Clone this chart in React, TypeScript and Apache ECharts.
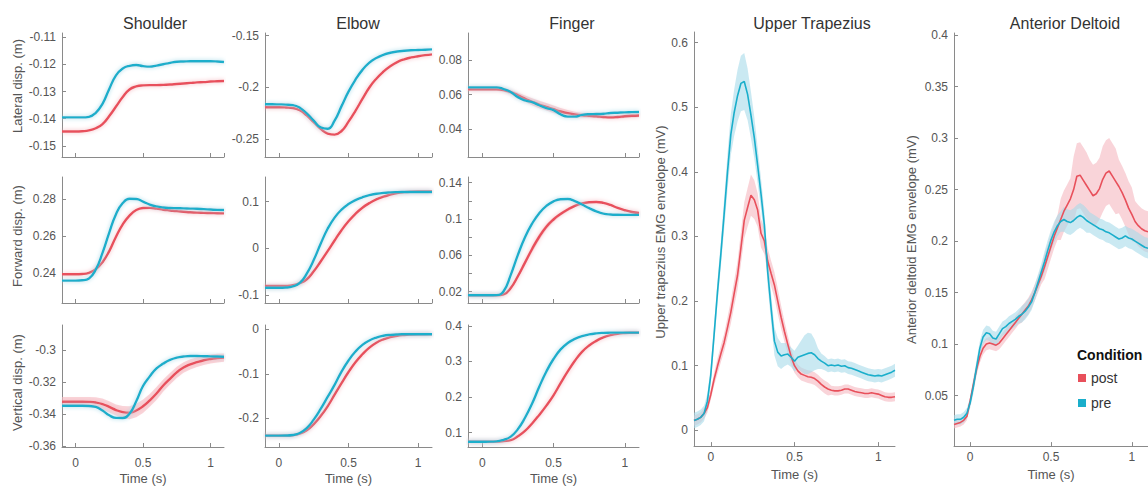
import React, { useEffect, useRef } from "react";
import * as echarts from "echarts";

// ---------- time bases ----------
const T_KIN = [-0.1, -0.05, 0, 0.05, 0.1, 0.15, 0.2, 0.25, 0.3, 0.35, 0.4, 0.45, 0.5, 0.55, 0.6, 0.65, 0.7, 0.75, 0.8, 0.85, 0.9, 0.95, 1.0, 1.05, 1.1];
const T_EMG = [
  -0.1, -0.08, -0.06, -0.04, -0.02, 0, 0.02, 0.04, 0.06, 0.08,
  0.1, 0.12, 0.14, 0.16, 0.18, 0.2, 0.22, 0.24, 0.26, 0.28,
  0.3, 0.32, 0.34, 0.36, 0.38, 0.4, 0.42, 0.44, 0.46, 0.48,
  0.5, 0.52, 0.54, 0.56, 0.58, 0.6, 0.62, 0.64, 0.66, 0.68,
  0.7, 0.72, 0.74, 0.76, 0.78, 0.8, 0.82, 0.84, 0.86, 0.88,
  0.9, 0.92, 0.94, 0.96, 0.98, 1.0, 1.02, 1.04, 1.06, 1.08,
  1.1,
];

// ---------- kinematics (m) ----------
const SH_LAT_PRE = [-0.1395, -0.1395, -0.1395, -0.1395, -0.1393, -0.1378, -0.1345, -0.129, -0.124, -0.1215, -0.1205, -0.1202, -0.1206, -0.1208, -0.1204, -0.1199, -0.1194, -0.119, -0.1189, -0.1188, -0.1188, -0.1188, -0.1188, -0.1189, -0.1191];
const SH_LAT_POST = [-0.1447, -0.1447, -0.1447, -0.1446, -0.1443, -0.1435, -0.142, -0.139, -0.1355, -0.132, -0.1292, -0.1281, -0.1277, -0.1276, -0.1276, -0.1275, -0.1274, -0.1272, -0.127, -0.1268, -0.1266, -0.1265, -0.1263, -0.1262, -0.1261];
const EL_LAT_PRE = [-0.2162, -0.2162, -0.2163, -0.2165, -0.217, -0.2195, -0.225, -0.232, -0.2385, -0.2398, -0.232, -0.218, -0.204, -0.1925, -0.183, -0.176, -0.1715, -0.1685, -0.1665, -0.1653, -0.1646, -0.1641, -0.1638, -0.1635, -0.1632];
const EL_LAT_POST = [-0.2191, -0.2191, -0.2191, -0.2193, -0.2198, -0.222, -0.227, -0.2335, -0.24, -0.2445, -0.2455, -0.242, -0.233, -0.2225, -0.211, -0.2, -0.1915, -0.1848, -0.1795, -0.1755, -0.1728, -0.171, -0.1698, -0.1688, -0.168];
const FI_LAT_PRE = [0.0642, 0.0642, 0.0642, 0.0642, 0.0642, 0.0632, 0.0615, 0.0585, 0.0566, 0.0556, 0.0538, 0.0522, 0.051, 0.0485, 0.0472, 0.0472, 0.0482, 0.0486, 0.0487, 0.0489, 0.0493, 0.0495, 0.0497, 0.0498, 0.0499];
const FI_LAT_POST = [0.063, 0.063, 0.063, 0.063, 0.063, 0.0626, 0.0614, 0.0596, 0.0576, 0.0558, 0.0542, 0.0529, 0.0515, 0.0502, 0.0492, 0.0485, 0.048, 0.0477, 0.0474, 0.047, 0.0468, 0.047, 0.0474, 0.0477, 0.0479];
const FI_LAT_POST_SD = [0.0008, 0.0008, 0.0008, 0.0008, 0.0008, 0.001, 0.0012, 0.0015, 0.0018, 0.002, 0.0022, 0.0022, 0.0022, 0.002, 0.0018, 0.0015, 0.0013, 0.0012, 0.001, 0.001, 0.001, 0.001, 0.001, 0.001, 0.001];

const SH_FWD_PRE = [0.236, 0.236, 0.236, 0.2362, 0.2372, 0.242, 0.251, 0.262, 0.272, 0.278, 0.2803, 0.2802, 0.2788, 0.2772, 0.2762, 0.2756, 0.2753, 0.2752, 0.2751, 0.275, 0.2749, 0.2747, 0.2745, 0.2743, 0.2742];
const SH_FWD_POST = [0.2395, 0.2395, 0.2395, 0.2396, 0.2402, 0.2422, 0.246, 0.252, 0.2598, 0.2665, 0.2712, 0.2742, 0.2753, 0.2754, 0.275, 0.2744, 0.274, 0.2736, 0.2733, 0.273, 0.2728, 0.2727, 0.2726, 0.2725, 0.2724];
const EL_FWD_PRE = [-0.0842, -0.0842, -0.0842, -0.0838, -0.0815, -0.074, -0.054, -0.025, 0.01, 0.042, 0.066, 0.083, 0.095, 0.1035, 0.1095, 0.114, 0.117, 0.119, 0.12, 0.1205, 0.1207, 0.1208, 0.1208, 0.1208, 0.1208];
const EL_FWD_POST = [-0.0805, -0.0805, -0.0805, -0.0803, -0.079, -0.0745, -0.066, -0.049, -0.028, -0.006, 0.017, 0.039, 0.058, 0.074, 0.087, 0.097, 0.105, 0.1108, 0.115, 0.1185, 0.1205, 0.1215, 0.1218, 0.1218, 0.1218];
const FI_FWD_PRE = [0.016, 0.016, 0.016, 0.016, 0.0162, 0.0205, 0.0385, 0.0605, 0.08, 0.095, 0.1065, 0.1145, 0.1195, 0.1218, 0.122, 0.1198, 0.116, 0.112, 0.1085, 0.106, 0.105, 0.1047, 0.1046, 0.1046, 0.1046];
const FI_FWD_POST = [0.016, 0.016, 0.016, 0.016, 0.016, 0.017, 0.024, 0.037, 0.052, 0.067, 0.0805, 0.0915, 0.0995, 0.1055, 0.1105, 0.1145, 0.1172, 0.1185, 0.1188, 0.1178, 0.1155, 0.1122, 0.1097, 0.1078, 0.1066];
const FI_FWD_POST_SD = [0.0008, 0.0008, 0.0008, 0.0008, 0.0008, 0.0008, 0.0015, 0.0025, 0.003, 0.0035, 0.0035, 0.003, 0.0025, 0.002, 0.0018, 0.0015, 0.0012, 0.0012, 0.0012, 0.0012, 0.0012, 0.0012, 0.0012, 0.0012, 0.0012];

const SH_VER_PRE = [-0.3348, -0.3348, -0.3348, -0.3348, -0.335, -0.3356, -0.3378, -0.3408, -0.3424, -0.3425, -0.3398, -0.332, -0.3225, -0.3165, -0.3115, -0.3085, -0.3062, -0.3048, -0.3041, -0.3038, -0.3038, -0.3039, -0.304, -0.3041, -0.3042];
const SH_VER_POST = [-0.3323, -0.3323, -0.3323, -0.3323, -0.3324, -0.3328, -0.3338, -0.3355, -0.3375, -0.3388, -0.3392, -0.3378, -0.3352, -0.3315, -0.3272, -0.3222, -0.318, -0.314, -0.311, -0.309, -0.3076, -0.3064, -0.3056, -0.3051, -0.3048];
const SH_VER_POST_SD = [0.003, 0.003, 0.003, 0.003, 0.003, 0.0032, 0.0035, 0.0035, 0.0035, 0.0038, 0.004, 0.0042, 0.0042, 0.004, 0.004, 0.0038, 0.0036, 0.0035, 0.0033, 0.0032, 0.003, 0.003, 0.0028, 0.0027, 0.0026];
const EL_VER_PRE = [-0.239, -0.239, -0.239, -0.2388, -0.2375, -0.233, -0.222, -0.203, -0.179, -0.152, -0.125, -0.095, -0.07, -0.05, -0.035, -0.025, -0.0185, -0.0145, -0.0125, -0.0115, -0.0112, -0.0111, -0.0111, -0.0111, -0.0111];
const EL_VER_POST = [-0.239, -0.239, -0.239, -0.2389, -0.238, -0.2345, -0.227, -0.213, -0.195, -0.173, -0.147, -0.121, -0.096, -0.074, -0.056, -0.041, -0.03, -0.0225, -0.0175, -0.0145, -0.0128, -0.0118, -0.0112, -0.011, -0.0108];
const FI_VER_PRE = [0.0747, 0.0747, 0.0747, 0.0748, 0.0755, 0.08, 0.089, 0.11, 0.142, 0.182, 0.229, 0.272, 0.307, 0.334, 0.352, 0.3635, 0.371, 0.376, 0.379, 0.3805, 0.381, 0.3812, 0.3812, 0.3812, 0.3812];
const FI_VER_POST = [0.0747, 0.0747, 0.0747, 0.0747, 0.075, 0.0765, 0.079, 0.09, 0.105, 0.126, 0.15, 0.176, 0.205, 0.239, 0.272, 0.302, 0.327, 0.345, 0.358, 0.368, 0.374, 0.378, 0.38, 0.3808, 0.3812];

// ---------- EMG envelopes (mV) ----------
const UT_PRE = [
  0.015, 0.017, 0.02, 0.026, 0.045, 0.085, 0.148, 0.213, 0.272, 0.335,
  0.4, 0.458, 0.492, 0.518, 0.537, 0.54, 0.52, 0.488, 0.453, 0.41,
  0.366, 0.318, 0.245, 0.19, 0.138, 0.121, 0.115, 0.117, 0.118, 0.113,
  0.107, 0.113, 0.115, 0.117, 0.119, 0.12, 0.117, 0.111, 0.107, 0.104,
  0.1, 0.101, 0.1, 0.101, 0.099, 0.1, 0.097, 0.096, 0.094, 0.092,
  0.09, 0.088, 0.086, 0.085, 0.084, 0.085, 0.084, 0.086, 0.088, 0.09,
  0.093,
];
const UT_PRE_SD = [
  0.012, 0.012, 0.012, 0.012, 0.012, 0.014, 0.016, 0.018, 0.02, 0.024,
  0.028, 0.032, 0.036, 0.04, 0.043, 0.044, 0.04, 0.036, 0.032, 0.028,
  0.024, 0.022, 0.022, 0.022, 0.022, 0.022, 0.02, 0.018, 0.016, 0.015,
  0.016, 0.018, 0.024, 0.03, 0.032, 0.03, 0.024, 0.016, 0.012, 0.011,
  0.01, 0.01, 0.01, 0.01, 0.01, 0.01, 0.01, 0.01, 0.01, 0.01,
  0.01, 0.01, 0.01, 0.01, 0.01, 0.01, 0.01, 0.01, 0.01, 0.01,
  0.01,
];
const UT_POST = [
  0.015, 0.017, 0.02, 0.026, 0.035, 0.055, 0.079, 0.099, 0.118, 0.136,
  0.159, 0.183, 0.212, 0.24, 0.282, 0.325, 0.345, 0.364, 0.357, 0.341,
  0.305, 0.293, 0.262, 0.243, 0.225, 0.2, 0.175, 0.153, 0.133, 0.114,
  0.1, 0.092, 0.087, 0.085, 0.083, 0.082, 0.08, 0.076, 0.071, 0.067,
  0.064, 0.062, 0.061, 0.061, 0.062, 0.064, 0.064, 0.062, 0.06, 0.059,
  0.058, 0.057, 0.057, 0.058, 0.057, 0.056, 0.054, 0.052, 0.051, 0.051,
  0.052,
];
const UT_POST_SD = [
  0.008, 0.008, 0.008, 0.008, 0.008, 0.008, 0.01, 0.012, 0.013, 0.014,
  0.016, 0.018, 0.02, 0.022, 0.025, 0.028, 0.03, 0.032, 0.03, 0.026,
  0.022, 0.02, 0.02, 0.02, 0.02, 0.02, 0.018, 0.016, 0.014, 0.012,
  0.011, 0.01, 0.01, 0.01, 0.01, 0.01, 0.01, 0.01, 0.01, 0.01,
  0.01, 0.007, 0.007, 0.007, 0.007, 0.007, 0.007, 0.007, 0.007, 0.007,
  0.007, 0.007, 0.007, 0.007, 0.007, 0.007, 0.007, 0.007, 0.007, 0.007,
  0.007,
];
const AD_PRE = [
  0.026, 0.027, 0.027, 0.029, 0.033, 0.043, 0.059, 0.078, 0.096, 0.107,
  0.111, 0.11, 0.106, 0.105, 0.11, 0.115, 0.117, 0.12, 0.122, 0.124,
  0.127, 0.129, 0.132, 0.136, 0.141, 0.15, 0.16, 0.17, 0.18, 0.191,
  0.201, 0.209, 0.215, 0.219, 0.221, 0.219, 0.218, 0.22, 0.223, 0.225,
  0.223, 0.22, 0.218, 0.216, 0.214, 0.212, 0.211, 0.209, 0.208, 0.206,
  0.204, 0.202, 0.203, 0.205, 0.203, 0.202, 0.2, 0.198, 0.196, 0.194,
  0.193,
];
const AD_PRE_SD = [
  0.005, 0.005, 0.005, 0.005, 0.005, 0.005, 0.007, 0.007, 0.007, 0.007,
  0.007, 0.007, 0.007, 0.007, 0.007, 0.007, 0.007, 0.007, 0.007, 0.007,
  0.007, 0.008, 0.008, 0.008, 0.008, 0.008, 0.008, 0.008, 0.01, 0.01,
  0.01, 0.01, 0.01, 0.01, 0.012, 0.012, 0.012, 0.012, 0.012, 0.012,
  0.012, 0.012, 0.01, 0.01, 0.01, 0.01, 0.01, 0.01, 0.01, 0.01,
  0.01, 0.01, 0.01, 0.01, 0.01, 0.01, 0.01, 0.01, 0.01, 0.01,
  0.01,
];
const AD_POST = [
  0.022, 0.023, 0.024, 0.026, 0.03, 0.045, 0.061, 0.076, 0.088, 0.096,
  0.1, 0.101, 0.1, 0.099, 0.101, 0.105, 0.109, 0.113, 0.117, 0.121,
  0.125, 0.129, 0.133, 0.137, 0.143, 0.15, 0.158, 0.166, 0.175, 0.185,
  0.195, 0.205, 0.213, 0.221, 0.229, 0.235, 0.241, 0.25, 0.263, 0.264,
  0.259, 0.254, 0.249, 0.244, 0.246, 0.251, 0.26, 0.266, 0.268, 0.263,
  0.258, 0.253, 0.247, 0.24, 0.232, 0.226, 0.219, 0.215, 0.212, 0.21,
  0.209,
];
const AD_POST_SD = [
  0.004, 0.004, 0.004, 0.004, 0.004, 0.004, 0.006, 0.006, 0.006, 0.006,
  0.006, 0.006, 0.006, 0.006, 0.006, 0.006, 0.006, 0.006, 0.006, 0.006,
  0.006, 0.008, 0.008, 0.008, 0.008, 0.008, 0.008, 0.008, 0.012, 0.012,
  0.012, 0.012, 0.012, 0.02, 0.02, 0.02, 0.02, 0.032, 0.032, 0.032,
  0.032, 0.032, 0.03, 0.03, 0.03, 0.03, 0.032, 0.032, 0.032, 0.032,
  0.032, 0.026, 0.026, 0.026, 0.026, 0.026, 0.02, 0.02, 0.02, 0.02,
  0.02,
];

// ---------- labels ----------
const TITLES = ["Shoulder", "Elbow", "Finger", "Upper Trapezius", "Anterior Deltoid"];
const CONDITIONS = ["post", "pre"];

// ---------- styles ----------
const PRE_COLOR = "#1AAECB";
const POST_COLOR = "#E8505B";
const PRE_BAND = "#A6DAE9";
const POST_BAND = "#F5B8BF";
const AXIS_COLOR = "#8a8a8a";
const LABEL_COLOR = "#555555";
const FONT = "'Liberation Sans', Arial, sans-serif";

type Box = { left: number; top: number; width: number; height: number };
interface PanelDef {
  t: number[];
  pre: number[];
  post: number[];
  preSd?: number[];
  postSd?: number[];
  yMin: number;
  yMax: number;
  yStep: number;
  yName?: string;
  yNameGap?: number;
  yNameShift?: number;
  xLabels: boolean;
  xLabelMargin?: number;
  xNameGap?: number;
  box: Box;
  smooth: boolean;
  emg?: boolean;
  labelFilter?: (v: number) => boolean;
}

const COLS = [
  { left: 62, width: 162 },
  { left: 265, width: 167 },
  { left: 468, width: 171 },
];
const ROWS = [
  { top: 33, height: 124 },
  { top: 177, height: 126 },
  { top: 325, height: 122 },
];
const cell = (c: number, r: number): Box => ({ ...COLS[c], ...ROWS[r] });

const PANELS: PanelDef[] = [
  { t: T_KIN, pre: SH_LAT_PRE, post: SH_LAT_POST, yMin: -0.1541, yMax: -0.1084, yStep: 0.01, yName: "Lateral disp. (m)", yNameGap: 38, yNameShift: 18, xLabels: false, box: cell(0, 0), smooth: true },
  { t: T_KIN, pre: EL_LAT_PRE, post: EL_LAT_POST, yMin: -0.2671, yMax: -0.1474, yStep: 0.05, xLabels: false, box: cell(1, 0), smooth: true },
  { t: T_KIN, pre: FI_LAT_PRE, post: FI_LAT_POST, postSd: FI_LAT_POST_SD, yMin: 0.0238, yMax: 0.0957, yStep: 0.02, xLabels: false, box: cell(2, 0), smooth: true },
  { t: T_KIN, pre: SH_FWD_PRE, post: SH_FWD_POST, yMin: 0.2239, yMax: 0.2921, yStep: 0.02, yName: "Forward disp. (m)", yNameGap: 38, yNameShift: 8, xLabels: false, box: cell(0, 1), smooth: true },
  { t: T_KIN, pre: EL_FWD_PRE, post: EL_FWD_POST, yMin: -0.1169, yMax: 0.1529, yStep: 0.1, xLabels: false, box: cell(1, 1), smooth: true },
  { t: T_KIN, pre: FI_FWD_PRE, post: FI_FWD_POST, postSd: FI_FWD_POST_SD, yMin: 0.0075, yMax: 0.1463, yStep: 0.02, xLabels: false, box: cell(2, 1), smooth: true, labelFilter: (v) => Math.round(v * 100) % 4 === 2 },
  { t: T_KIN, pre: SH_VER_PRE, post: SH_VER_POST, postSd: SH_VER_POST_SD, yMin: -0.3606, yMax: -0.2844, yStep: 0.02, yName: "Vertical disp. (m)", yNameGap: 38, yNameShift: 7, xLabels: true, xLabelMargin: 10, xNameGap: 25, box: cell(0, 2), smooth: true },
  { t: T_KIN, pre: EL_VER_PRE, post: EL_VER_POST, yMin: -0.2645, yMax: 0.0097, yStep: 0.1, xLabels: true, xLabelMargin: 10, xNameGap: 25, box: cell(1, 2), smooth: true },
  { t: T_KIN, pre: FI_VER_PRE, post: FI_VER_POST, yMin: 0.0598, yMax: 0.4025, yStep: 0.1, xLabels: true, xLabelMargin: 10, xNameGap: 25, box: cell(2, 2), smooth: true },
  { t: T_EMG, pre: UT_PRE, post: UT_POST, preSd: UT_PRE_SD, postSd: UT_POST_SD, yMin: -0.0245, yMax: 0.6166, yStep: 0.1, yName: "Upper trapezius EMG envelope (mV)", yNameGap: 27, yNameShift: 14, xLabels: true, xLabelMargin: 5, xNameGap: 20, box: { left: 694, top: 32, width: 201, height: 418 }, smooth: false, emg: true },
  { t: T_EMG, pre: AD_PRE, post: AD_POST, preSd: AD_PRE_SD, postSd: AD_POST_SD, yMin: 0.001, yMax: 0.402, yStep: 0.05, yName: "Anterior deltoid EMG envelope (mV)", yNameGap: 36, xLabels: true, xLabelMargin: 5, xNameGap: 20, box: { left: 954, top: 33, width: 194, height: 417 }, smooth: false, emg: true },
];

const TITLE_POS = [
  [155, 23],
  [358, 23],
  [572, 23],
  [812, 23],
  [1065, 23],
];

const fmt = (v: number) => String(Number(v.toFixed(4)));
const pairs = (t: number[], a: number[]) => t.map((x, i) => [x, a[i]]);

// mean ± spread band, drawn as a polygon through the axes' own coordinate mapping
function bandSeries(i: number, p: PanelDef, vals: number[], sd: number[], color: string, key: string) {
  const upper = p.t.map((x, k) => [x, vals[k] + sd[k]]);
  const lower = p.t.map((x, k) => [x, vals[k] - sd[k]]).reverse();
  const ring = upper.concat(lower);
  return {
    type: "custom",
    name: key,
    xAxisIndex: i,
    yAxisIndex: i,
    silent: true,
    clip: true,
    z: 1,
    data: [[p.t[0], vals[0]]],
    encode: { x: 0, y: 1 },
    renderItem: (_params: any, api: any) => ({
      type: "polygon",
      shape: { points: ring.map((pt) => api.coord(pt)) },
      style: { fill: color, opacity: 0.6 },
    }),
  };
}

function buildOption() {
  const grid = PANELS.map((p) => ({ ...p.box, containLabel: false }));
  const xAxis = PANELS.map((p, i) => ({
    type: "value",
    gridIndex: i,
    min: -0.1,
    max: 1.1,
    minInterval: 0.5,
    maxInterval: 0.5,
    axisLine: { show: true, onZero: false, lineStyle: { color: AXIS_COLOR, width: 1 } },
    axisTick: { show: true, inside: true, length: 4, lineStyle: { color: AXIS_COLOR } },
    axisLabel: {
      show: p.xLabels,
      showMinLabel: false,
      showMaxLabel: false,
      margin: p.xLabelMargin ?? 8,
      fontSize: 12,
      color: LABEL_COLOR,
      fontFamily: FONT,
      formatter: fmt,
    },
    splitLine: { show: false },
    name: p.xLabels ? "Time (s)" : "",
    nameLocation: "middle",
    nameGap: p.xNameGap ?? 20,
    nameTextStyle: { fontSize: 13, color: LABEL_COLOR, fontFamily: FONT },
  }));
  const yAxis = PANELS.map((p, i) => ({
    type: "value",
    gridIndex: i,
    min: p.yMin,
    max: p.yMax,
    minInterval: p.yStep,
    maxInterval: p.yStep,
    axisLine: { show: true, onZero: false, lineStyle: { color: AXIS_COLOR, width: 1 } },
    axisTick: { show: true, inside: true, length: 4, lineStyle: { color: AXIS_COLOR } },
    axisLabel: {
      showMinLabel: false,
      showMaxLabel: false,
      margin: 6,
      fontSize: 12,
      color: LABEL_COLOR,
      fontFamily: FONT,
      formatter: (v: number) => (p.labelFilter && !p.labelFilter(v) ? "" : fmt(v)),
    },
    splitLine: { show: false },
    name: p.yName ?? "",
    nameLocation: "middle",
    nameRotate: 90,
    nameGap: p.yNameGap ?? 30,
    nameTextStyle: {
      fontSize: 13,
      color: LABEL_COLOR,
      fontFamily: FONT,
      padding: [0, 0, 0, p.yNameShift ?? 0],
    },
  }));

  const series: any[] = [];
  PANELS.forEach((p, i) => {
    if (p.postSd) series.push(bandSeries(i, p, p.post, p.postSd, POST_BAND, "postband"));
    if (p.preSd) series.push(bandSeries(i, p, p.pre, p.preSd, PRE_BAND, "preband"));
    const lw = p.emg ? 1.6 : 2.4;
    const glow = p.emg ? 0 : 4;
    series.push({
      type: "line",
      name: CONDITIONS[0],
      xAxisIndex: i,
      yAxisIndex: i,
      data: pairs(p.t, p.post),
      smooth: p.smooth,
      symbol: "none",
      color: POST_COLOR,
      lineStyle: { color: POST_COLOR, width: lw, shadowBlur: glow, shadowColor: POST_BAND },
      z: 3,
    });
    series.push({
      type: "line",
      name: CONDITIONS[1],
      xAxisIndex: i,
      yAxisIndex: i,
      data: pairs(p.t, p.pre),
      smooth: p.smooth,
      symbol: "none",
      color: PRE_COLOR,
      lineStyle: { color: PRE_COLOR, width: lw, shadowBlur: glow, shadowColor: PRE_BAND },
      z: 4,
    });
  });

  const graphic: any[] = TITLES.map((txt, k) => ({
    type: "text",
    x: TITLE_POS[k][0],
    y: TITLE_POS[k][1],
    style: {
      text: txt,
      fontSize: 16,
      fontFamily: FONT,
      fill: "#333333",
      align: "center",
      verticalAlign: "middle",
      textAlign: "center",
      textVerticalAlign: "middle",
    },
    z: 10,
  }));
  graphic.push({
    type: "text",
    x: 1077,
    y: 355,
    style: {
      text: "Condition",
      fontSize: 14,
      fontWeight: "bold",
      fontFamily: FONT,
      fill: "#111111",
      align: "left",
      verticalAlign: "middle",
      textAlign: "left",
      textVerticalAlign: "middle",
    },
    z: 10,
  });

  return {
    animation: false,
    backgroundColor: "#ffffff",
    textStyle: { fontFamily: FONT },
    grid,
    xAxis,
    yAxis,
    series,
    graphic,
    legend: {
      data: CONDITIONS,
      orient: "vertical",
      left: 1078,
      top: 371,
      padding: 0,
      itemWidth: 8,
      itemHeight: 8,
      itemGap: 11,
      icon: "rect",
      selectedMode: false,
      textStyle: { fontSize: 14, color: "#333333", fontFamily: FONT },
    },
  };
}

export default function App() {
  const ref = useRef<HTMLDivElement>(null);
  useEffect(() => {
    if (!ref.current) return;
    const chart = echarts.init(ref.current, null, { renderer: "svg" });
    chart.setOption(buildOption() as any);
    return () => chart.dispose();
  }, []);
  return (
    <div
      ref={ref}
      style={{ position: "fixed", left: 0, top: 0, width: 1148, height: 486, background: "#ffffff" }}
    />
  );
}
